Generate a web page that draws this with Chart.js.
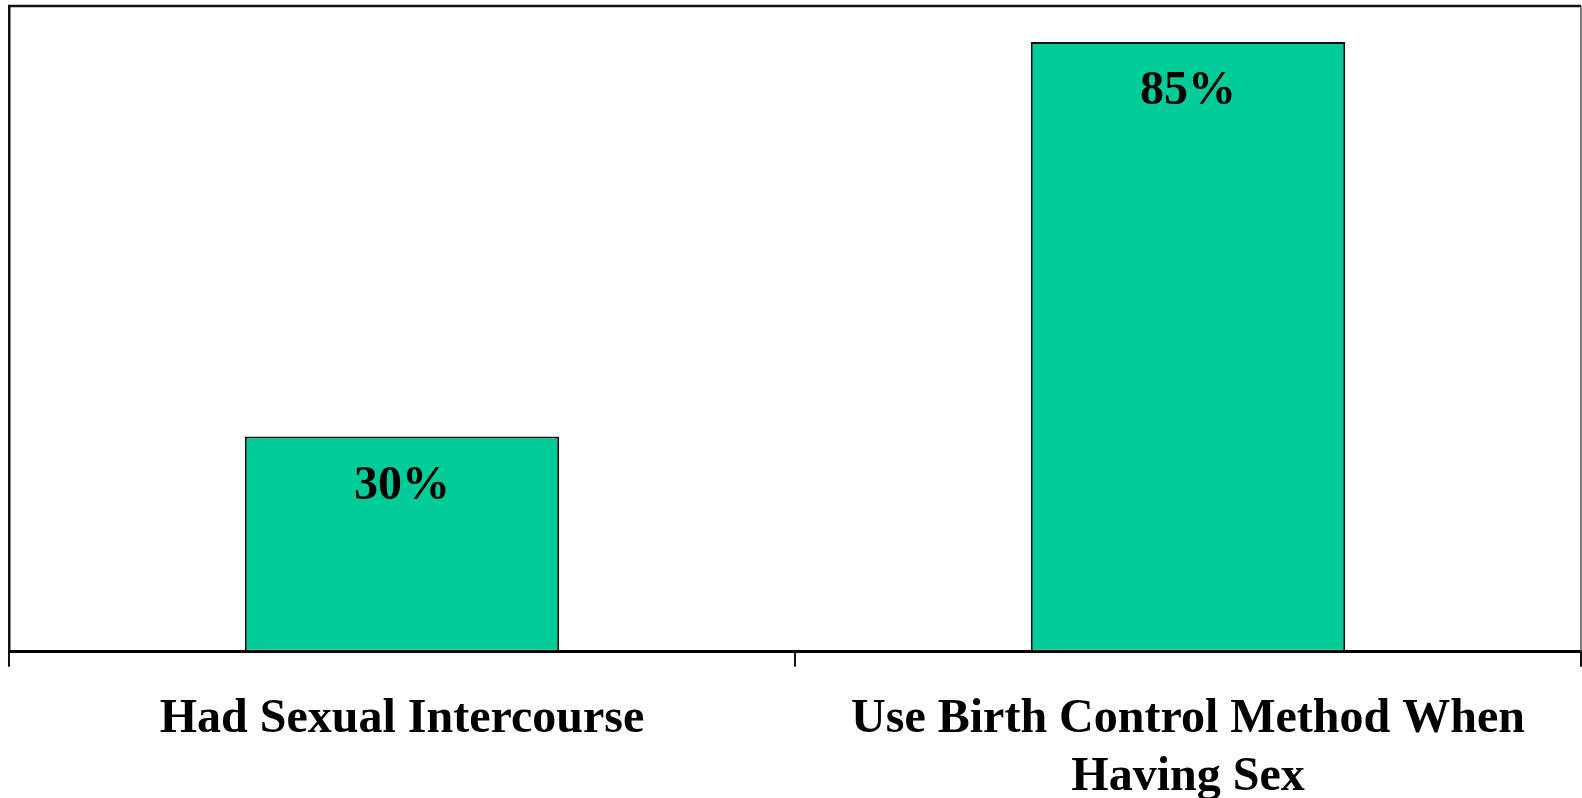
<!DOCTYPE html>
<html>
<head>
<meta charset="utf-8">
<script src="https://cdn.jsdelivr.net/npm/chart.js@4/dist/chart.umd.min.js"></script>
<style>
  html, body { margin: 0; padding: 0; background: #ffffff; }
  #wrap { width: 1582px; height: 798px; }
</style>
</head>
<body>
<div id="wrap"><canvas id="chart" width="1582" height="798"></canvas></div>
<script>
// Survey results (percent of respondents)
const categories = [
  'Had Sexual Intercourse',
  ['Use Birth Control Method When', 'Having Sex']
];
const percentValues = [30, 85];
const yMin = 0;
const yMax = 90;

const FONT_FAMILY = '"Liberation Serif", "Times New Roman", serif';
const BAR_FILL = '#00CC99';

// Draws the percent value inside the top of each bar
const valueLabels = {
  id: 'valueLabels',
  afterDatasetsDraw(chart) {
    const ctx = chart.ctx;
    const meta = chart.getDatasetMeta(0);
    ctx.save();
    ctx.font = 'bold 48px ' + FONT_FAMILY;
    ctx.fillStyle = '#000000';
    ctx.textAlign = 'center';
    ctx.textBaseline = 'middle';
    meta.data.forEach((bar, i) => {
      const v = chart.data.datasets[0].data[i];
      ctx.fillText(v + '%', bar.x, bar.y + 50);
    });
    ctx.restore();
  }
};

// Frame lines along the top and right of the plot area
const plotFrame = {
  id: 'plotFrame',
  afterDraw(chart) {
    const { ctx, chartArea } = chart;
    ctx.save();
    ctx.strokeStyle = '#111111';
    ctx.lineWidth = 2.5;
    ctx.beginPath();
    ctx.moveTo(chartArea.left - 1, chartArea.top);
    ctx.lineTo(chartArea.right, chartArea.top);
    ctx.stroke();
    ctx.strokeStyle = '#555555';
    ctx.lineWidth = 1.5;
    ctx.beginPath();
    ctx.moveTo(chartArea.right, chartArea.top);
    ctx.lineTo(chartArea.right, chartArea.bottom);
    ctx.stroke();
    ctx.restore();
  }
};

new Chart(document.getElementById('chart'), {
  type: 'bar',
  data: {
    labels: categories,
    datasets: [{
      data: percentValues,
      backgroundColor: BAR_FILL,
      borderColor: '#111111',
      borderWidth: 2,
      borderSkipped: false,
      categoryPercentage: 1.0,
      barPercentage: 0.4
    }]
  },
  options: {
    responsive: false,
    animation: false,
    devicePixelRatio: 1,
    layout: { padding: { left: 9, top: 6, right: 1, bottom: -32 } },
    plugins: {
      legend: { display: false },
      tooltip: { enabled: false },
      title: { display: false }
    },
    scales: {
      x: {
        grid: {
          display: true,
          offset: true,
          drawOnChartArea: false,
          drawTicks: true,
          tickLength: 15,
          color: '#111111',
          lineWidth: 2
        },
        border: { display: true, color: '#000000', width: 3 },
        ticks: {
          color: '#000000',
          padding: 24,
          maxRotation: 0,
          autoSkip: false,
          font: { family: FONT_FAMILY, size: 48, weight: 'bold', lineHeight: 1.2 }
        }
      },
      y: {
        min: yMin,
        max: yMax,
        grid: { display: false, drawTicks: false },
        border: { display: true, color: '#111111', width: 2.5 },
        ticks: { display: false }
      }
    }
  },
  plugins: [valueLabels, plotFrame]
});
</script>
</body>
</html>
